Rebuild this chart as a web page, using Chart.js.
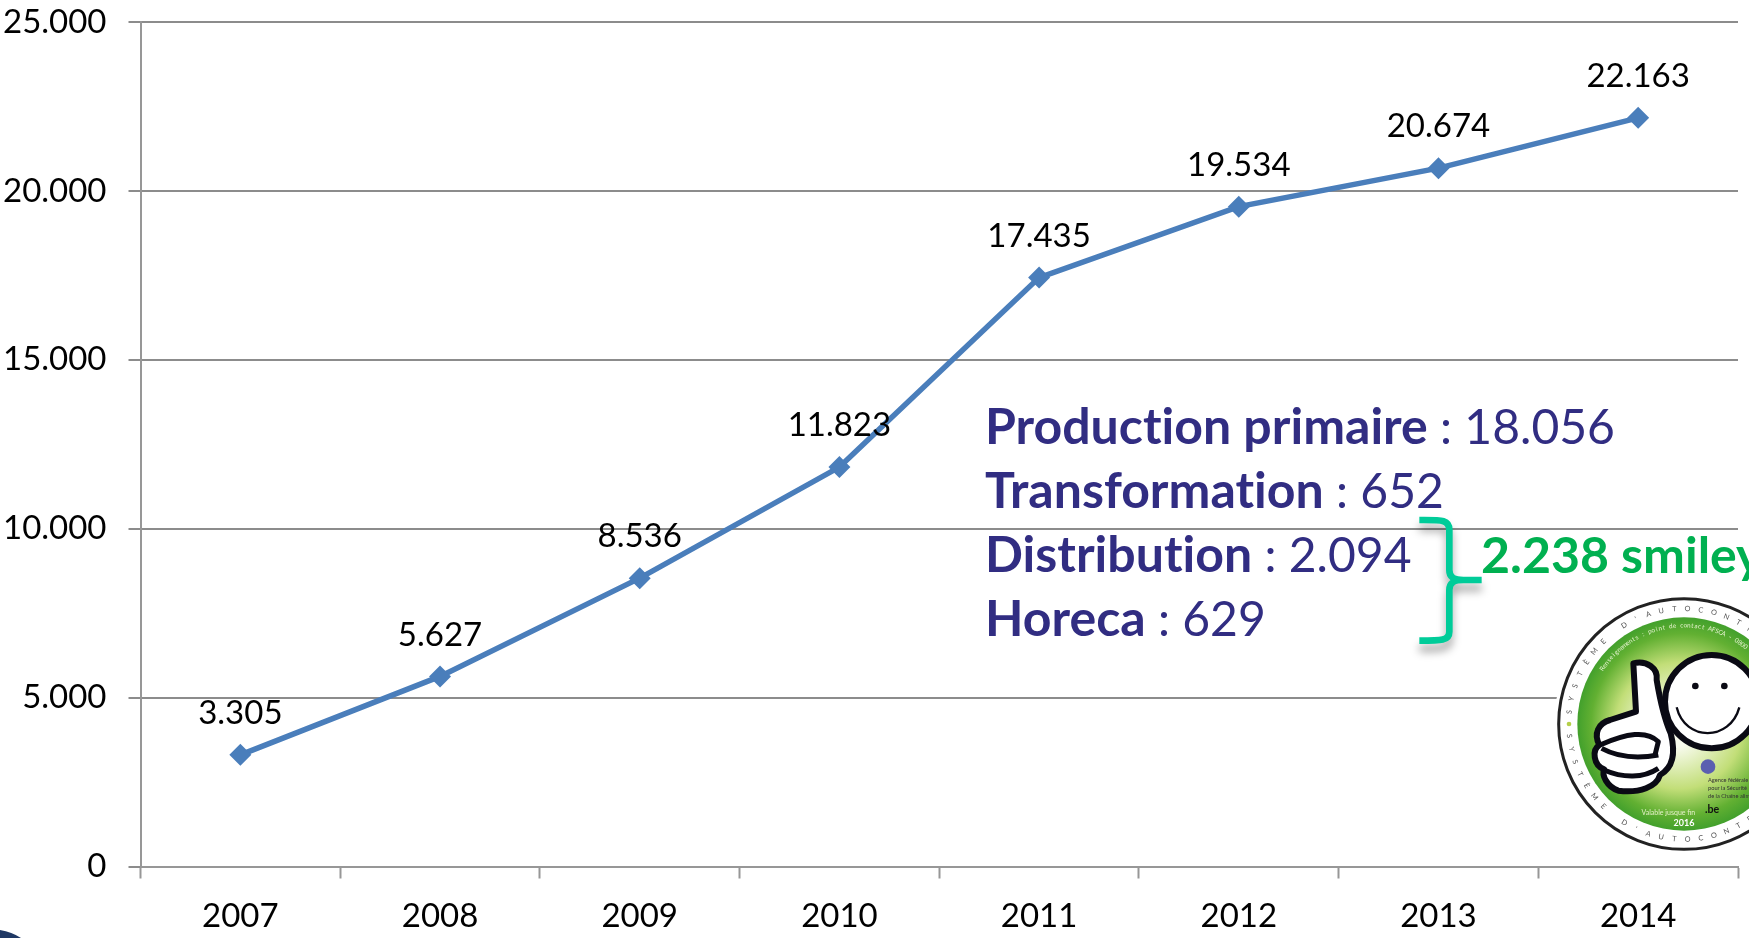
<!DOCTYPE html>
<html>
<head>
<meta charset="utf-8">
<title>Smileys</title>
<script src="https://cdn.jsdelivr.net/npm/chart.js@4"></script>
<style>
  html, body { margin: 0; padding: 0; background: #fff; overflow: hidden; }
  canvas { display: block; }
</style>
</head>
<body>
<canvas id="chart" width="1749" height="938"></canvas>
<script>
const years = ['2007', '2008', '2009', '2010', '2011', '2012', '2013', '2014'];
const operators = [3305, 5627, 8536, 11823, 17435, 19534, 20674, 22163];
const sectorNames = ['Production primaire', 'Transformation', 'Distribution', 'Horeca'];
const sectorCounts = ['18.056', '652', '2.094', '629'];
const smileyText = '2.238 smileys';

const FONT = 'Lato, Carlito, sans-serif';
const dotted = v => String(v).replace(/\B(?=(\d{3})+$)/g, '.');

// text bent round the badge ring
function arcText(ctx, text, cx, cy, r, startDeg, stepDeg, inward) {
    text.split('').forEach((c, i) => {
        const a = (startDeg + i * stepDeg) * Math.PI / 180;
        ctx.save();
        ctx.translate(cx + r * Math.cos(a), cy + r * Math.sin(a));
        ctx.rotate(inward ? a + Math.PI / 2 : a - Math.PI / 2);
        ctx.fillText(c, 0, 0);
        ctx.restore();
    });
}

function drawBadge(ctx) {
    // coordinates here follow a 3x grid with origin at (1380, 500)
    ctx.save();
    ctx.translate(1380, 500);
    ctx.scale(1 / 3, 1 / 3);
    const cx = 912, cy = 672;

    ctx.fillStyle = '#fff';
    ctx.beginPath(); ctx.arc(cx, cy, 390, 0, Math.PI * 2); ctx.fill();
    ctx.strokeStyle = '#222';
    ctx.lineWidth = 9;
    ctx.beginPath(); ctx.arc(cx, cy, 376, 0, Math.PI * 2); ctx.stroke();

    const green = ctx.createRadialGradient(cx - 30, cy + 10, 60, cx, cy, 320);
    green.addColorStop(0, '#f8fbee');
    green.addColorStop(0.5, '#c2de78');
    green.addColorStop(0.82, '#62b032');
    green.addColorStop(1, '#42a02c');
    ctx.fillStyle = green;
    ctx.beginPath(); ctx.arc(cx, cy, 320, 0, Math.PI * 2); ctx.fill();

    // ring lettering
    ctx.fillStyle = '#555';
    ctx.font = '22px ' + FONT;
    ctx.textAlign = 'center';
    ctx.textBaseline = 'middle';
    arcText(ctx, "SYSTÈME D'AUTOCONTRÔLE", cx, cy, 346, 186, 6.6, true);
    arcText(ctx, "SYSTÈME D'AUTOCONTRÔLE", cx, cy, 346, 174, -6.6, false);
    ctx.fillStyle = '#b5cf4a';
    ctx.beginPath(); ctx.arc(567, 672, 7, 0, Math.PI * 2); ctx.fill();

    ctx.fillStyle = '#e6f3cf';
    ctx.font = '19px ' + FONT;
    arcText(ctx, 'Renseignements : point de contact AFSCA - 0800', cx, cy, 296, 214, 2.1, true);

    // smiley
    ctx.strokeStyle = '#0a0a14';
    ctx.fillStyle = '#fff';
    ctx.lineWidth = 18;
    ctx.beginPath(); ctx.arc(995, 605, 140, 0, Math.PI * 2); ctx.fill(); ctx.stroke();
    ctx.fillStyle = '#0a0a14';
    ctx.beginPath(); ctx.arc(946, 558, 10, 0, Math.PI * 2); ctx.fill();
    ctx.beginPath(); ctx.arc(1033, 558, 10, 0, Math.PI * 2); ctx.fill();
    ctx.lineWidth = 7;
    ctx.beginPath();
    ctx.moveTo(890, 622);
    ctx.bezierCurveTo(915, 725, 1050, 725, 1078, 622);
    ctx.stroke();

    // thumb
    ctx.fillStyle = '#fff';
    ctx.lineWidth = 18;
    ctx.lineJoin = 'round';
    ctx.beginPath();
    ctx.moveTo(768, 635);
    ctx.lineTo(760, 490);
    ctx.bezierCurveTo(800, 480, 835, 505, 830, 540);
    ctx.bezierCurveTo(840, 600, 850, 650, 872, 700);
    ctx.bezierCurveTo(885, 750, 885, 800, 840, 825);
    ctx.bezierCurveTo(830, 860, 780, 880, 715, 872);
    ctx.bezierCurveTo(680, 860, 665, 825, 672, 808);
    ctx.bezierCurveTo(640, 795, 635, 750, 658, 735);
    ctx.bezierCurveTo(640, 700, 655, 670, 690, 660);
    ctx.closePath();
    ctx.fill();
    ctx.stroke();
    ctx.lineWidth = 15;
    [[[660, 735], [740, 700], [800, 690], [835, 725], [825, 765]],
     [[665, 745], [720, 775], [780, 775], [835, 765], [835, 765]],
     [[672, 810], [730, 835], [790, 835], [835, 805], [835, 805]]].forEach(p => {
        ctx.beginPath();
        ctx.moveTo(p[0][0], p[0][1]);
        ctx.bezierCurveTo(p[1][0], p[1][1], p[2][0], p[2][1], p[3][0], p[3][1]);
        ctx.lineTo(p[4][0], p[4][1]);
        ctx.stroke();
    });

    // agency block
    ctx.fillStyle = '#5b5fb0';
    ctx.beginPath(); ctx.arc(984, 800, 22, 0, Math.PI * 2); ctx.fill();
    ctx.fillStyle = '#333';
    ctx.textAlign = 'left';
    ctx.font = '17px ' + FONT;
    ctx.fillText('Agence fédérale', 984, 841);
    ctx.fillText('pour la Sécurité', 984, 865);
    ctx.fillText('de la Chaîne alimentaire', 984, 890);
    ctx.fillStyle = '#111';
    ctx.font = 'bold 32px ' + FONT;
    ctx.fillText('.be', 975, 930);
    ctx.fillStyle = '#e3f0c8';
    ctx.font = '21px ' + FONT;
    ctx.textAlign = 'center';
    ctx.fillText('Valable jusque fin', 865, 937);
    ctx.fillStyle = '#fff';
    ctx.font = 'bold 27px ' + FONT;
    ctx.fillText('2016', 912, 968);
    ctx.restore();
}

function drawBrace(ctx) {
    ctx.save();
    ctx.translate(1380, 500);
    ctx.scale(1 / 3, 1 / 3);
    ctx.strokeStyle = '#00cc99';
    ctx.lineWidth = 20;
    ctx.lineCap = 'butt';
    ctx.lineJoin = 'round';
    ctx.shadowColor = 'rgba(0,0,0,0.35)';
    ctx.shadowBlur = 8;
    ctx.shadowOffsetY = 8;
    ctx.beginPath();
    ctx.moveTo(118, 60);
    ctx.bezierCurveTo(185, 60, 208, 58, 208, 90);
    ctx.lineTo(208, 210);
    ctx.bezierCurveTo(208, 235, 225, 240, 250, 240);
    ctx.lineTo(305, 240);
    ctx.moveTo(250, 240);
    ctx.bezierCurveTo(225, 240, 208, 245, 208, 270);
    ctx.lineTo(208, 395);
    ctx.bezierCurveTo(208, 422, 185, 422, 118, 422);
    ctx.stroke();
    ctx.restore();
}

const valueLabels = {
    id: 'valueLabels',
    afterDatasetsDraw(chart) {
        const ctx = chart.ctx;
        ctx.save();
        ctx.fillStyle = '#000';
        ctx.font = '33px ' + FONT;
        ctx.textAlign = 'center';
        ctx.textBaseline = 'middle';
        chart.getDatasetMeta(0).data.forEach((pt, i) => {
            ctx.fillText(dotted(operators[i]), pt.x, pt.y - 41.5);
        });
        ctx.restore();
    }
};

const annotations = {
    id: 'annotations',
    afterDraw(chart) {
        const ctx = chart.ctx;
        const baselines = [444, 508, 572, 636];
        ctx.save();
        ctx.textAlign = 'left';
        ctx.textBaseline = 'alphabetic';
        ctx.letterSpacing = '0.01px'; // keeps Lato from joining "ti" into a ligature
        sectorNames.forEach((name, i) => {
            ctx.fillStyle = '#312d82';
            ctx.font = 'bold 50px ' + FONT;
            ctx.fillText(name, 985, baselines[i]);
            const w = ctx.measureText(name).width;
            ctx.font = '48px ' + FONT;
            ctx.fillText(' : ' + sectorCounts[i], 985 + w, baselines[i]);
        });
        ctx.fillStyle = '#00b050';
        ctx.font = 'bold 50px ' + FONT;
        ctx.fillText(smileyText, 1481, 573);
        ctx.restore();

        drawBrace(ctx);
        drawBadge(ctx);

        // corner of the slide decoration, bottom left
        ctx.save();
        ctx.fillStyle = '#1f3864';
        ctx.beginPath();
        ctx.moveTo(0, 930);
        ctx.quadraticCurveTo(12, 932, 21, 938);
        ctx.lineTo(0, 938);
        ctx.closePath();
        ctx.fill();
        ctx.restore();
    }
};

new Chart(document.getElementById('chart'), {
    type: 'line',
    data: {
        labels: years,
        datasets: [{
            data: operators,
            borderColor: '#4a7ebb',
            backgroundColor: '#4a7ebb',
            borderWidth: 5.5,
            tension: 0,
            pointStyle: 'rectRot',
            pointRadius: 11,
            pointHoverRadius: 11,
            pointBorderWidth: 0
        }]
    },
    options: {
        responsive: false,
        animation: false,
        layout: { padding: { top: 22, right: 9.5, left: 0, bottom: 0 } },
        plugins: { legend: { display: false }, tooltip: { enabled: false } },
        scales: {
            x: {
                offset: true,
                afterFit(scale) {
                    scale.height = 71.5;
                    // year labels must not pull the plot in from the right
                    scale.getPadding = () => ({ left: 0, top: 0, right: 0, bottom: 0 });
                },
                border: { color: '#979797', width: 2 },
                grid: { offset: true, drawOnChartArea: false, drawTicks: true, tickLength: 12, tickWidth: 2, tickColor: '#979797' },
                ticks: { color: '#000', font: { family: FONT, size: 33 }, padding: 18, maxRotation: 0 }
            },
            y: {
                min: 0,
                max: 25000,
                afterFit(scale) {
                    scale.width = 140.5;
                    // top label overhangs the plot in the reference
                    scale.paddingTop = 0;
                    scale.paddingBottom = 0;
                },
                border: { color: '#979797', width: 2 },
                grid: { color: '#8c8c8c', lineWidth: 2, tickLength: 12 },
                ticks: {
                    stepSize: 5000,
                    color: '#000',
                    font: { family: FONT, size: 33 },
                    padding: 22,
                    callback: v => dotted(v)
                }
            }
        }
    },
    plugins: [valueLabels, annotations]
});
</script>
</body>
</html>
